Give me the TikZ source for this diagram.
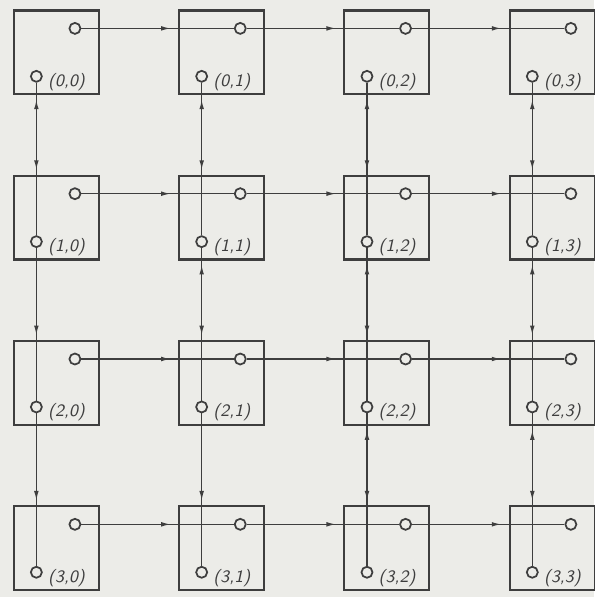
\documentclass[tikz,border=0pt]{standalone}
\usepackage{tikz}
\usetikzlibrary{positioning,arrows.meta,decorations.markings}
\definecolor{paper}{RGB}{236,236,232}
\definecolor{ink}{RGB}{62,62,62}

\begin{document}
\begin{tikzpicture}[color=ink,
					cell/.style={rectangle, draw, line width=1.1pt, minimum width=1.54cm, minimum height=1.52cm},
					pin/.style={circle, draw, line width=0.9pt, fill=paper, inner sep=0pt, minimum size=0.2cm},
					tag/.style={font=\sffamily\itshape\small, inner sep=0pt, right=0.9mm of #1, yshift=-1mm},
					wire/.style={line width=0.8pt, postaction={decorate}},
					arr/.tip={Latex[length=1.8mm,width=0.85mm]},
					hlink/.style={wire, decoration={markings, mark=at position -1.14cm with {\arrow{arr}}}},
					dnlink/.style={wire, decoration={markings, mark=at position -1.18cm with {\arrow{arr}}}},
					bilink/.style={wire, decoration={markings, mark=at position 0.3cm with {\arrowreversed{arr}}, mark=at position -1.18cm with {\arrow{arr}}}}]
					\path[use as bounding box, fill=paper] (-1.02,0.95) rectangle (9.76,-9.884);
					\node[cell] (n00) at (0,0) {};
					\node[cell] (n01) at (3,0) {};
					\node[cell] (n02) at (6,0) {};
					\node[cell] (n03) at (9,0) {};
					\node[cell] (n10) at (0,-3) {};
					\node[cell] (n11) at (3,-3) {};
					\node[cell] (n12) at (6,-3) {};
					\node[cell] (n13) at (9,-3) {};
					\node[cell] (n20) at (0,-6) {};
					\node[cell] (n21) at (3,-6) {};
					\node[cell] (n22) at (6,-6) {};
					\node[cell] (n23) at (9,-6) {};
					\node[cell] (n30) at (0,-9) {};
					\node[cell] (n31) at (3,-9) {};
					\node[cell] (n32) at (6,-9) {};
					\node[cell] (n33) at (9,-9) {};
					\node[pin] (t00) at (0.34,0.435) {};
					\node[pin] (t01) at (3.34,0.435) {};
					\node[pin] (t02) at (6.34,0.435) {};
					\node[pin] (t03) at (9.34,0.435) {};
					\node[pin] (t10) at (0.34,-2.565) {};
					\node[pin] (t11) at (3.34,-2.565) {};
					\node[pin] (t12) at (6.34,-2.565) {};
					\node[pin] (t13) at (9.34,-2.565) {};
					\node[pin] (t20) at (0.34,-5.565) {};
					\node[pin] (t21) at (3.34,-5.565) {};
					\node[pin] (t22) at (6.34,-5.565) {};
					\node[pin] (t23) at (9.34,-5.565) {};
					\node[pin] (t30) at (0.34,-8.565) {};
					\node[pin] (t31) at (3.34,-8.565) {};
					\node[pin] (t32) at (6.34,-8.565) {};
					\node[pin] (t33) at (9.34,-8.565) {};
					\node[pin] (b00) at (-0.36,-0.435) {};
					\node[pin] (b01) at (2.64,-0.435) {};
					\node[pin] (b02) at (5.64,-0.435) {};
					\node[pin] (b03) at (8.64,-0.435) {};
					\node[pin] (b10) at (-0.36,-3.435) {};
					\node[pin] (b11) at (2.64,-3.435) {};
					\node[pin] (b12) at (5.64,-3.435) {};
					\node[pin] (b13) at (8.64,-3.435) {};
					\node[pin] (b20) at (-0.36,-6.435) {};
					\node[pin] (b21) at (2.64,-6.435) {};
					\node[pin] (b22) at (5.64,-6.435) {};
					\node[pin] (b23) at (8.64,-6.435) {};
					\node[pin] (b30) at (-0.36,-9.435) {};
					\node[pin] (b31) at (2.64,-9.435) {};
					\node[pin] (b32) at (5.64,-9.435) {};
					\node[pin] (b33) at (8.64,-9.435) {};
					\node[tag=b00] (l00) {(0,0)};
					\node[tag=b01] (l01) {(0,1)};
					\node[tag=b02] (l02) {(0,2)};
					\node[tag=b03] (l03) {(0,3)};
					\node[tag=b10] (l10) {(1,0)};
					\node[tag=b11] (l11) {(1,1)};
					\node[tag=b12] (l12) {(1,2)};
					\node[tag=b13] (l13) {(1,3)};
					\node[tag=b20] (l20) {(2,0)};
					\node[tag=b21] (l21) {(2,1)};
					\node[tag=b22] (l22) {(2,2)};
					\node[tag=b23] (l23) {(2,3)};
					\node[tag=b30] (l30) {(3,0)};
					\node[tag=b31] (l31) {(3,1)};
					\node[tag=b32] (l32) {(3,2)};
					\node[tag=b33] (l33) {(3,3)};
					\draw[hlink] (t00) -- (t01);
					\draw[hlink] (t01) -- (t02);
					\draw[hlink] (t02) -- (t03);
					\draw[hlink] (t10) -- (t11);
					\draw[hlink] (t11) -- (t12);
					\draw[hlink] (t12) -- (t13);
					\draw[hlink] (t20) -- (t21);
					\draw[hlink] (t21) -- (t22);
					\draw[hlink] (t22) -- (t23);
					\draw[hlink] (t30) -- (t31);
					\draw[hlink] (t31) -- (t32);
					\draw[hlink] (t32) -- (t33);
					\draw[bilink] (b00) -- (b10);
					\draw[bilink] (b01) -- (b11);
					\draw[bilink] (b02) -- (b12);
					\draw[bilink] (b03) -- (b13);
					\draw[dnlink] (b10) -- (b20);
					\draw[bilink] (b11) -- (b21);
					\draw[bilink] (b12) -- (b22);
					\draw[bilink] (b13) -- (b23);
					\draw[dnlink] (b20) -- (b30);
					\draw[dnlink] (b21) -- (b31);
					\draw[bilink] (b22) -- (b32);
					\draw[bilink] (b23) -- (b33);
				\end{tikzpicture}
\end{document}
